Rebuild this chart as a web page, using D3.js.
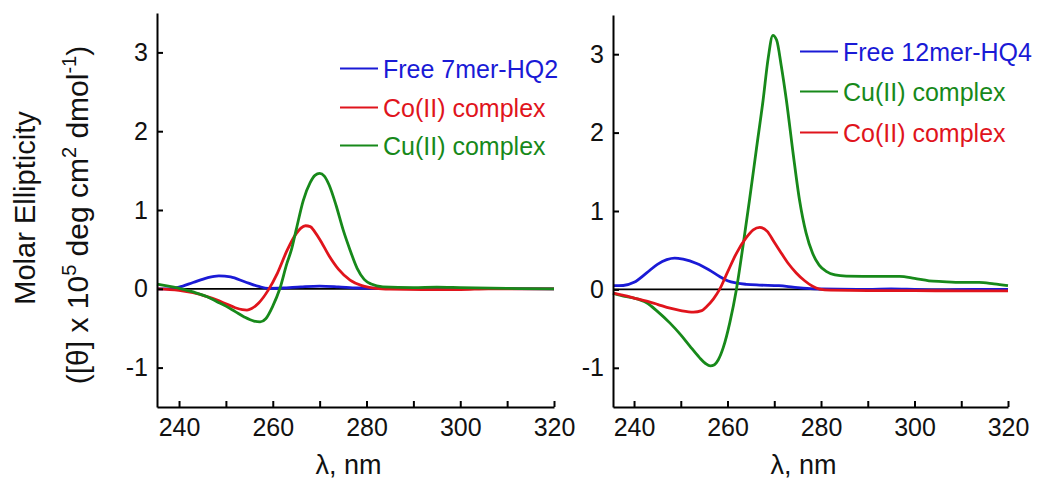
<!DOCTYPE html>
<html>
<head>
<meta charset="utf-8">
<script src="https://cdn.jsdelivr.net/npm/d3@7"></script>
<style>
  html, body { margin: 0; padding: 0; background: #fff; }
  svg { display: block; font-family: "Liberation Sans", Arial, sans-serif; }
</style>
</head>
<body>
<svg id="chart" width="1040" height="480"></svg>
<script>
// ---------- Data ----------
const xTicks = [240, 250, 260, 270, 280, 290, 300, 310, 320];
const xTickLabels = [240, 260, 280, 300, 320];
const yTicks = [-1, 0, 1, 2, 3];

// Left panel: 7mer-HQ2
const wlFree7 = [235.3, 238, 240, 243, 246, 248.5, 251, 254, 257, 259, 262, 266, 270, 274, 278, 284, 300, 320];
const cdFree7 = [0.0, 0.0, 0.02, 0.08, 0.14, 0.165, 0.15, 0.09, 0.03, 0.005, 0.01, 0.025, 0.035, 0.025, 0.01, 0.005, 0.005, 0.0];

const wlCo7 = [235.3, 240, 243, 246, 248, 250, 252, 253.5, 254.5, 255.5, 257, 259, 261, 263, 265, 266, 267, 268, 269, 270, 272, 274, 276.5, 279, 282, 285, 292, 300, 306, 320];
const cdCo7 = [0.0, -0.02, -0.05, -0.1, -0.14, -0.19, -0.24, -0.265, -0.27, -0.25, -0.18, -0.02, 0.2, 0.48, 0.7, 0.77, 0.8, 0.79, 0.72, 0.63, 0.42, 0.25, 0.11, 0.04, 0.005, -0.005, -0.01, -0.01, 0.0, 0.0];

const wlCu7 = [235.3, 238, 240.5, 243, 246, 248, 250, 252, 254, 256, 257.3, 258.5, 260, 261.5, 263, 264, 265, 266.5, 268, 269, 270, 271, 272, 273.5, 275, 276.5, 278, 279.5, 281, 283.5, 290, 295, 300, 310, 320];
const cdCu7 = [0.06, 0.03, 0.0, -0.04, -0.1, -0.16, -0.22, -0.29, -0.36, -0.41, -0.42, -0.38, -0.22, 0.0, 0.32, 0.5, 0.75, 1.12, 1.35, 1.44, 1.465, 1.43, 1.32, 1.06, 0.75, 0.49, 0.26, 0.12, 0.06, 0.025, 0.015, 0.02, 0.015, 0.005, 0.0];

// Right panel: 12mer-HQ4
const wlFree12 = [235.5, 237.7, 240, 242.7, 245, 247, 248.7, 250.5, 253.4, 256, 258.3, 260, 262, 264, 266.8, 271, 274, 277, 280, 290, 295, 300, 305, 313, 320];
const cdFree12 = [0.047, 0.05, 0.09, 0.21, 0.32, 0.38, 0.40, 0.385, 0.33, 0.25, 0.165, 0.11, 0.08, 0.065, 0.055, 0.047, 0.03, 0.013, 0.005, 0.0, 0.005, 0.0, -0.005, 0.0, 0.0];

const wlCu12 = [235.5, 238, 240, 242.7, 245, 247.7, 250, 251.9, 254, 255.3, 256.3, 257.2, 258, 259.1, 260.5, 261.9, 263.3, 264.7, 266.2, 267.6, 268.7, 269.7, 270.5, 271.5, 272.6, 274, 275.4, 276.8, 278.2, 279.6, 281.1, 283, 285.4, 292.5, 296.8, 300, 303.1, 306, 310.2, 313.8, 317, 320];
const cdCu12 = [-0.047, -0.09, -0.11, -0.17, -0.28, -0.43, -0.58, -0.72, -0.87, -0.945, -0.975, -0.96, -0.9, -0.74, -0.42, 0.0, 0.55, 1.14, 1.8, 2.41, 2.95, 3.24, 3.18, 2.85, 2.41, 1.75, 1.14, 0.72, 0.46, 0.31, 0.23, 0.185, 0.17, 0.165, 0.165, 0.14, 0.11, 0.10, 0.09, 0.09, 0.07, 0.047];

const wlCo12 = [235.5, 238, 240, 242.7, 245, 247.7, 250, 252.7, 254.5, 255.5, 257, 258.3, 260, 261.9, 264, 265.5, 266.9, 268.5, 270, 271.1, 273, 274.7, 276.5, 278.2, 279.7, 282, 290, 300, 310, 320];
const cdCo12 = [-0.047, -0.08, -0.11, -0.15, -0.19, -0.24, -0.27, -0.29, -0.27, -0.22, -0.12, 0.0, 0.22, 0.46, 0.66, 0.76, 0.79, 0.74, 0.6, 0.5, 0.33, 0.21, 0.11, 0.04, 0.005, -0.01, -0.015, -0.015, -0.02, -0.02];

const colors = { blue: "#1a1ad6", red: "#e0141c", green: "#17891a" };

const panels = [
  {
    xRange: [157, 554], xDomain: [235.3, 320], yRange: [407, 13],
    series: [
      { name: "Free 7mer-HQ2", wl: wlFree7, cd: cdFree7, color: colors.blue },
      { name: "Co(II) complex", wl: wlCo7, cd: cdCo7, color: colors.red },
      { name: "Cu(II) complex", wl: wlCu7, cd: cdCu7, color: colors.green }
    ],
    legend: { x1: 340, x2: 378, tx: 383, baselines: [78, 117, 155] }
  },
  {
    xRange: [613, 1008], xDomain: [235.5, 320], yRange: [407, 15],
    series: [
      { name: "Free 12mer-HQ4", wl: wlFree12, cd: cdFree12, color: colors.blue },
      { name: "Cu(II) complex", wl: wlCu12, cd: cdCu12, color: colors.green },
      { name: "Co(II) complex", wl: wlCo12, cd: cdCo12, color: colors.red }
    ],
    legend: { x1: 800, x2: 838, tx: 843, baselines: [61, 101, 142] }
  }
];

const svg = d3.select("#chart");
svg.append("rect").attr("width", 1040).attr("height", 480).attr("fill", "#fff");

panels.forEach(p => {
  const x = d3.scaleLinear().domain(p.xDomain).range(p.xRange);
  const y = d3.scaleLinear().domain([-1.5, 3.5]).range(p.yRange);
  const g = svg.append("g");

  // zero line
  g.append("line")
    .attr("x1", x(p.xDomain[0])).attr("x2", x(320))
    .attr("y1", y(0)).attr("y2", y(0))
    .attr("stroke", "#000").attr("stroke-width", 1.8);

  const line = d3.line().x(d => x(d[0])).y(d => y(d[1])).curve(d3.curveMonotoneX);
  p.series.forEach(s => {
    g.append("path")
      .datum(s.wl.map((w, i) => [w, s.cd[i]]))
      .attr("d", line)
      .attr("fill", "none")
      .attr("stroke", s.color)
      .attr("stroke-width", 2.8)
      .attr("stroke-linejoin", "round");
  });

  // axes
  const xAxis = d3.axisBottom(x).tickValues(xTicks).tickSize(-6).tickSizeOuter(0).tickPadding(11)
    .tickFormat(d => xTickLabels.includes(d) ? String(d) : "");
  const yAxis = d3.axisLeft(y).tickValues(yTicks).tickSize(-6).tickSizeOuter(0).tickPadding(9)
    .tickFormat(d => String(d));

  const gx = g.append("g").attr("transform", `translate(0,${p.yRange[0]})`).call(xAxis);
  const gy = g.append("g").attr("transform", `translate(${p.xRange[0]},0)`).call(yAxis);
  [gx, gy].forEach(ax => {
    ax.select(".domain").attr("stroke", "#000").attr("stroke-width", 2);
    ax.selectAll(".tick line").attr("stroke", "#000").attr("stroke-width", 2);
    ax.selectAll(".tick text").attr("fill", "#111").style("font-size", "25px")
      .style("font-family", '"Liberation Sans", Arial, sans-serif');
  });

  // x label
  g.append("text")
    .attr("x", (p.xRange[0] + p.xRange[1]) / 2 - 7)
    .attr("y", 474)
    .attr("text-anchor", "middle")
    .style("font-size", "27px").attr("fill", "#111")
    .text("λ, nm");

  // legend
  p.series.forEach((s, i) => {
    const b = p.legend.baselines[i];
    g.append("line")
      .attr("x1", p.legend.x1).attr("x2", p.legend.x2)
      .attr("y1", b - 9.5).attr("y2", b - 9.5)
      .attr("stroke", s.color).attr("stroke-width", 2);
    g.append("text")
      .attr("x", p.legend.tx).attr("y", b)
      .style("font-size", "25px").attr("fill", s.color)
      .text(s.name);
  });
});

// y-axis title
svg.append("text")
  .attr("transform", "translate(35,208) rotate(-90)")
  .attr("text-anchor", "middle")
  .style("font-size", "29px").attr("fill", "#111")
  .text("Molar Ellipticity");

const yl2 = svg.append("text")
  .attr("transform", "translate(88,215) rotate(-90)")
  .attr("text-anchor", "middle")
  .style("font-size", "30px").attr("fill", "#111");
yl2.append("tspan").text("([θ] x 10");
yl2.append("tspan").attr("dy", -12).style("font-size", "20px").text("5");
yl2.append("tspan").attr("dy", 12).text(" deg cm");
yl2.append("tspan").attr("dy", -12).style("font-size", "20px").text("2");
yl2.append("tspan").attr("dy", 12).text(" dmol");
yl2.append("tspan").attr("dy", -12).style("font-size", "20px").text("-1");
yl2.append("tspan").attr("dy", 12).text(")");
</script>
</body>
</html>
